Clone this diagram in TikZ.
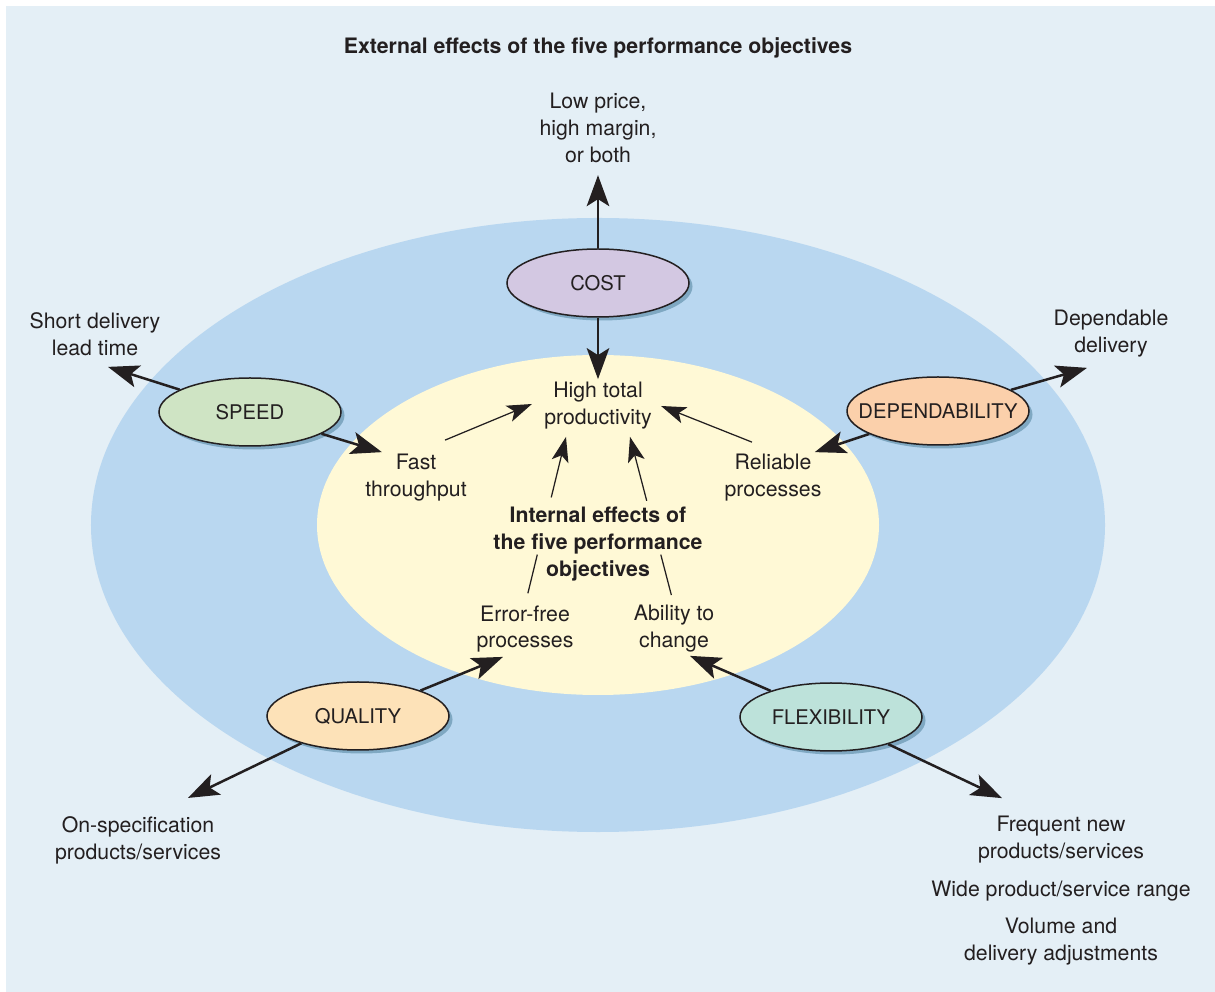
\documentclass[tikz,border=0pt]{standalone}
\usepackage{fontspec}
\setmainfont{TeX Gyre Heros}
\usepackage{xcolor}
\usetikzlibrary{shapes.geometric,shadows,arrows.meta,calc}
\definecolor{paleblue}{HTML}{E4EFF6}
\definecolor{ringblue}{HTML}{B9D7F0}
\definecolor{corecream}{HTML}{FFF9D6}
\definecolor{shadeblue}{HTML}{7FA8C2}
\definecolor{costlilac}{HTML}{D3C8E2}
\definecolor{speedgreen}{HTML}{CFE4C4}
\definecolor{depsalmon}{HTML}{FBD0AB}
\definecolor{qualpeach}{HTML}{FDE2B8}
\definecolor{flexmint}{HTML}{BDE2DA}
\definecolor{inkgray}{HTML}{231F20}
\newcommand{\diagfont}{\fontsize{12.1}{15.3}\selectfont}
\newcommand{\ovalfont}{\fontsize{11.5}{14}\selectfont}

\begin{document}
\begin{tikzpicture}[x=0.2mm, y=-0.2mm, font=\diagfont, text=inkgray,
    objective/.style={ellipse, draw=inkgray, line width=0.3mm, minimum width=36.4mm, minimum height=13.6mm, inner sep=0pt,
        drop shadow={shadow xshift=0.7mm, shadow yshift=-0.7mm, fill=shadeblue, opacity=1}},
    effect/.style={align=center, inner sep=0pt},
    bigarrow/.style={draw=inkgray, line width=0.5mm, -{Stealth[length=6.2mm, width=4.5mm, inset=1.4mm]}},
    smallarrow/.style={draw=inkgray, line width=0.25mm, -{Stealth[length=5mm, width=3.4mm, inset=1.2mm]}}]

    \useasboundingbox (0,0) rectangle (1215,992);
    \fill[paleblue] (6,6) rectangle (1215,992);
    \fill[ringblue] (598,525) ellipse [x radius=101.4mm, y radius=61.4mm];
    \fill[corecream] (598,525) ellipse [x radius=56.2mm, y radius=34mm];

    % external effects
    \node[font=\diagfont\bfseries] (title) at (598,48) {External effects of the five performance objectives};
    \node[effect] (low) at (598,128) {Low price,\\high margin,\\or both};
    \node[effect] (short) at (95,334) {Short delivery\\lead time};
    \node[effect] (depd) at (1111,334) {Dependable\\delivery};
    \node[effect] (onspec) at (138,840) {On-specification\\products/services};
    \node[effect] (freq) at (1061,840) {Frequent new\\products/services};
    \node[effect] (wide) at (1061,891) {Wide product/service range};
    \node[effect] (vol) at (1061,942) {Volume and\\delivery adjustments};

    % internal effects
    \node[effect] (high) at (598,406) {High total\\productivity};
    \node[effect] (fast) at (416,478) {Fast\\throughput};
    \node[effect] (rel) at (773,478) {Reliable\\processes};
    \node[effect, font=\diagfont\bfseries] (internal) at (598,544) {Internal effects of\\the five performance\\objectives};
    \node[effect] (err) at (525,629) {Error-free\\processes};
    \node[effect] (abil) at (674,629) {Ability to\\change};

    % the five objectives
    \node[objective, fill=costlilac, label={[font=\ovalfont]center:COST}] (cost) at (598,283) {};
    \node[objective, fill=speedgreen, label={[font=\ovalfont]center:SPEED}] (speed) at (250,412) {};
    \node[objective, fill=depsalmon, label={[font=\ovalfont]center:DEPENDABILITY}] (dep) at (938,411) {};
    \node[objective, fill=qualpeach, label={[font=\ovalfont]center:QUALITY}] (qual) at (358,716) {};
    \node[objective, fill=flexmint, label={[font=\ovalfont]center:FLEXIBILITY}] (flex) at (831,717) {};

    \draw[bigarrow, shorten >=2.4mm] (cost) -- (low);
    \draw[bigarrow, shorten >=0.6mm] (cost) -- (high);
    \draw[bigarrow] (speed) -- ([shift={(13,11)}]short.south);
    \draw[bigarrow] (speed) -- ([shift={(17,-2)}]fast.north west);
    \draw[bigarrow] (dep) -- ([shift={(-24,10)}]depd.south);
    \draw[bigarrow] (dep) -- ([shift={(-7,-2)}]rel.north east);
    \draw[bigarrow] (qual) -- ([shift={(-22,4)}]err.south);
    \draw[bigarrow] (qual) -- ([shift={(50,-18)}]onspec.north);
    \draw[bigarrow] (flex) -- ([shift={(16,3)}]abil.south);
    \draw[bigarrow] (flex) -- ([shift={(-59,-18)}]freq.north);

    \draw[smallarrow] ([shift={(29,-14)}]fast.north) -- ([shift={(-12,-2)}]high.west);
    \draw[smallarrow] ([shift={(-21,-12)}]rel.north) -- ([shift={(9,0)}]high.east);
    \coordinate (hiL) at ([shift={(-32,7)}]high.south);
    \coordinate (hiR) at ([shift={(32,7)}]high.south);
    \draw[draw=inkgray, line width=0.25mm] ($(err.north)!0.07!(hiL)$) -- ($(err.north)!0.30!(hiL)$);
    \draw[smallarrow] ($(err.north)!0.64!(hiL)$) -- (hiL);
    \draw[draw=inkgray, line width=0.25mm] ($(abil.north)!0.06!(hiR)$) -- ($(abil.north)!0.30!(hiR)$);
    \draw[smallarrow] ($(abil.north)!0.62!(hiR)$) -- (hiR);
\end{tikzpicture}
\end{document}
